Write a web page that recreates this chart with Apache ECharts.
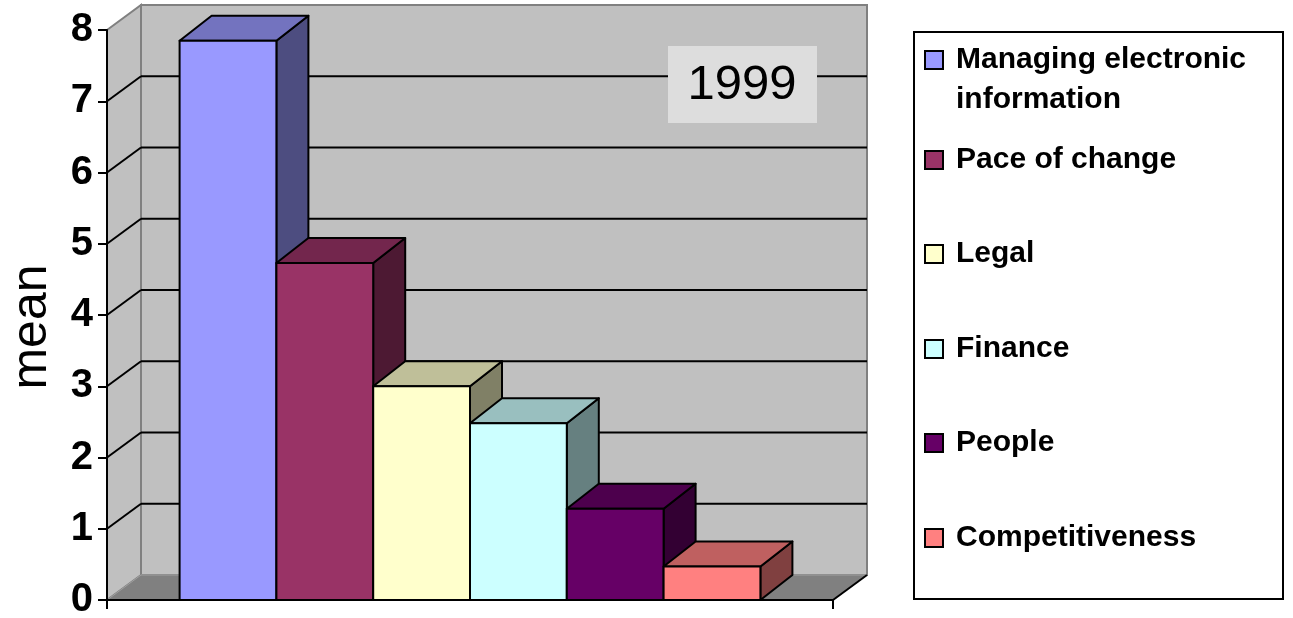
<!DOCTYPE html>
<html lang="en">
<head>
<meta charset="UTF-8">
<title>mean 1999</title>
<script src="https://cdn.jsdelivr.net/npm/echarts@6/dist/echarts.min.js"></script>
<style>
    *{
        padding: 0;
        margin: 0;
    }
    html, body{
        width: 100%;
        height: 100%;
        background: #fff;
    }
    .echarts{
        width: 1293px;
        height: 618px;
    }
</style>
</head>
<body>
<div class="echarts"></div>
<script>
    // data
    const names = ['Managing electronic information', 'Pace of change', 'Legal', 'Finance', 'People', 'Competitiveness'];
    const means = [7.85, 4.73, 3.0, 2.48, 1.28, 0.47];
    const yTicks = [0, 1, 2, 3, 4, 5, 6, 7, 8];

    // colours (front / top / side faces)
    const frontColors = ['#9999ff', '#993366', '#ffffcc', '#ccffff', '#660066', '#ff8080'];
    const topColors = ['#7373bf', '#73264d', '#bfbf99', '#99bfbf', '#4d004d', '#bf6060'];
    const sideColors = ['#4d4d80', '#4d1933', '#808066', '#668080', '#330033', '#804040'];

    // 3d depth offsets in px
    const WDX = 34, WDY = -25;   // walls
    const BDX = 32, BDY = -25;   // bars
    const legendCenters = [60, 155, 249, 344, 438, 533];
    const font = 'Liberation Sans, Arial, sans-serif';

    const edge = {stroke: '#000', lineWidth: 2, lineJoin: 'round'};

    function wallItem(params, api) {
        const band = api.size([1, 0])[0];
        const c = api.coord([0, 0]);
        const xl = c[0] - band / 2, xr = c[0] + band / 2;
        const yb = c[1];
        const yt = api.coord([0, yTicks[yTicks.length - 1]])[1];
        const children = [
            {type: 'rect', shape: {x: xl + WDX, y: yt + WDY, width: xr - xl, height: yb - yt},
                style: {fill: '#c0c0c0', stroke: '#808080', lineWidth: 2}},
            {type: 'polygon', shape: {points: [[xl, yt], [xl + WDX, yt + WDY], [xl + WDX, yb + WDY], [xl, yb]]},
                style: {fill: '#c0c0c0', stroke: '#808080', lineWidth: 2}},
            {type: 'polygon', shape: {points: [[xl, yb], [xl + WDX, yb + WDY], [xr + WDX, yb + WDY], [xr, yb]]},
                style: {fill: '#808080', stroke: '#a0a0a0', lineWidth: 1}},
            {type: 'line', shape: {x1: xr, y1: yb, x2: xr + WDX, y2: yb + WDY}, style: {stroke: '#000', lineWidth: 2}}
        ];
        yTicks.forEach(v => {
            if (v === yTicks[0] || v === yTicks[yTicks.length - 1]) return;
            const y = api.coord([0, v])[1];
            children.push({type: 'line', shape: {x1: xl + WDX, y1: y + WDY, x2: xr + WDX, y2: y + WDY},
                style: {stroke: '#000', lineWidth: 2}});
            children.push({type: 'line', shape: {x1: xl, y1: y, x2: xl + WDX, y2: y + WDY},
                style: {stroke: '#000', lineWidth: 2}});
        });
        return {type: 'group', children};
    }

    function barItem(i) {
        return function (params, api) {
            const base = api.coord([0, 0]);
            const top = api.coord([0, api.value(1)]);
            const band = api.size([1, 0])[0];
            const w = band * 0.8 / names.length;
            const x0 = base[0] - band * 0.4 + i * w;
            const x1 = x0 + w;
            const yb = base[1], yt = top[1];
            return {
                type: 'group',
                children: [
                    {type: 'polygon', shape: {points: [[x1, yb], [x1 + BDX, yb + BDY], [x1 + BDX, yt + BDY], [x1, yt]]},
                        style: Object.assign({fill: sideColors[i]}, edge)},
                    {type: 'polygon', shape: {points: [[x0, yt], [x0 + BDX, yt + BDY], [x1 + BDX, yt + BDY], [x1, yt]]},
                        style: Object.assign({fill: topColors[i]}, edge)},
                    {type: 'rect', shape: {x: x0, y: yt, width: w, height: yb - yt},
                        style: Object.assign({fill: frontColors[i]}, edge)}
                ]
            };
        };
    }

    window.onload = function () {
        let myCharts = echarts.init(document.querySelector('.echarts'));

        let series = [{
            name: 'walls',
            type: 'custom',
            z: 1,
            silent: true,
            renderItem: wallItem,
            data: [[0, 0]]
        }];
        names.forEach((name, i) => {
            series.push({
                name: name,
                type: 'custom',
                z: 2,
                itemStyle: {color: frontColors[i]},
                renderItem: barItem(i),
                encode: {x: 0, y: 1},
                data: [[0, means[i]]]
            });
        });

        // one legend per entry so each row sits where the original has it;
        // the first entry wraps, a leading blank line keeps its first line level with the box
        let legends = names.map((name, i) => ({
            data: [name],
            orient: 'vertical',
            left: 924,
            top: i === 0 ? legendCenters[0] - 60 : legendCenters[i] - 10,
            padding: 0,
            icon: 'rect',
            itemWidth: 18,
            itemHeight: 18,
            selectedMode: false,
            itemStyle: {borderColor: '#000', borderWidth: 2},
            formatter: i === 0 ? function () { return '\nManaging electronic\ninformation'; } : '{name}',
            textStyle: {
                color: '#000',
                fontFamily: font,
                fontWeight: 'bold',
                fontSize: 30,
                lineHeight: i === 0 ? 40 : 18,
                padding: [0, 0, 0, 8]
            }
        }));

        let option = {
            animation: false,
            backgroundColor: '#fff',
            grid: {left: 107, right: 460, top: 30, bottom: 18, outerBoundsMode: 'none', containLabel: false},
            legend: legends,
            xAxis: {
                type: 'category',
                data: [''],
                z: 5,
                axisLine: {lineStyle: {color: '#000', width: 2}},
                axisTick: {show: true, interval: 0, length: 9, lineStyle: {color: '#000', width: 2}},
                axisLabel: {show: false}
            },
            yAxis: {
                type: 'value',
                min: yTicks[0],
                max: yTicks[yTicks.length - 1],
                interval: 1,
                z: 5,
                name: 'mean',
                nameLocation: 'middle',
                nameRotate: 90,
                nameGap: 50,
                nameTextStyle: {color: '#000', fontFamily: font, fontSize: 50, padding: [0, 24, 0, 0]},
                axisLine: {show: true, lineStyle: {color: '#000', width: 2}},
                axisTick: {show: true, length: 9, lineStyle: {color: '#000', width: 2}},
                splitLine: {show: false},
                axisLabel: {color: '#000', fontFamily: font, fontWeight: 'bold', fontSize: 40, margin: 14}
            },
            graphic: [
                {type: 'rect', left: 913, top: 31, z: 0,
                    shape: {width: 369, height: 567},
                    style: {fill: '#fff', stroke: '#000', lineWidth: 2}},
                {type: 'rect', left: 668, top: 46, z: 3,
                    shape: {width: 149, height: 77},
                    style: {fill: '#dddddd'}},
                {type: 'text', x: 742, y: 85, z: 4,
                    style: {text: '1999', fill: '#000', font: '49px ' + font, align: 'center', verticalAlign: 'middle'}}
            ],
            series
        };
        myCharts.setOption(option);
    };
</script>
</body>
</html>
